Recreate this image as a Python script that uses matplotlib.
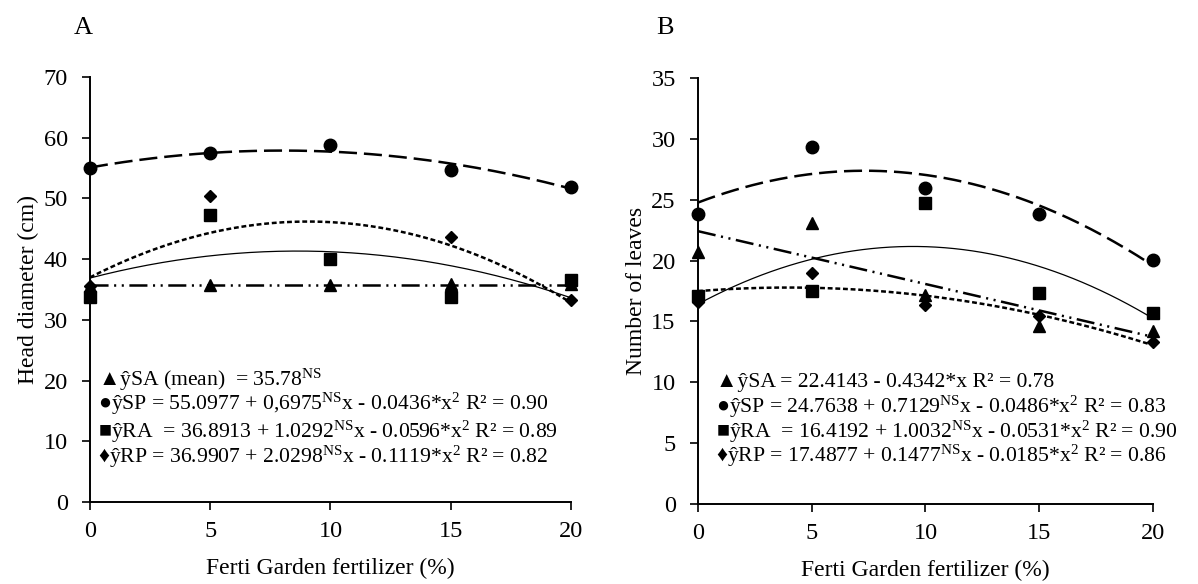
import numpy as np
import matplotlib
matplotlib.use("Agg")
import matplotlib.pyplot as plt

plt.rcParams['font.family'] = ['Liberation Serif', 'DejaVu Serif']
plt.rcParams['mathtext.fontset'] = 'custom'
plt.rcParams['mathtext.rm'] = 'Liberation Serif'
plt.rcParams['mathtext.it'] = 'Liberation Serif:italic'
plt.rcParams['lines.scale_dashes'] = False

# ---------------- data ----------------
doses = [0, 5, 10, 15, 20]

# Panel A: head diameter (cm)
head_SA = [35.5, 35.8, 35.8, 35.9, 35.9]
head_SP = [55.0, 57.5, 58.8, 54.7, 51.9]
head_RA = [33.8, 47.3, 40.0, 33.8, 36.5]
head_RP = [35.6, 50.4, 40.0, 43.6, 33.2]
# regression coefficients (c0, c1, c2) printed on the chart
head_fit_SA = [35.78, 0.0, 0.0]
head_fit_SP = [55.0977, 0.6975, -0.0436]
head_fit_RA = [36.8913, 1.0292, -0.0596]
head_fit_RP = [36.9907, 2.0298, -0.1119]

# Panel B: number of leaves
leaves_SA = [20.7, 23.1, 17.2, 14.6, 14.2]
leaves_SP = [23.8, 29.3, 26.0, 23.8, 20.05]
leaves_RA = [17.1, 17.5, 24.7, 17.3, 15.7]
leaves_RP = [16.6, 19.0, 16.35, 15.45, 13.3]
leaves_fit_SA = [22.4143, -0.4342, 0.0]
leaves_fit_SP = [24.7638, 0.7129, -0.0486]
leaves_fit_RA = [16.4192, 1.0032, -0.0531]
leaves_fit_RP = [17.4877, 0.1477, -0.0185]

eq_A = [r"▲ŷSA (mean)  = 35.78$^{\mathrm{NS}}$",
        r"●ŷSP = 55.0977 + 0,6975$^{\mathrm{NS}}$x - 0.0436*x$^{2}$ R² = 0.90",
        r"■ŷRA  = 36.8913 + 1.0292$^{\mathrm{NS}}$x - 0.0596*x$^{2}$ R² = 0.89",
        r"♦ŷRP = 36.9907 + 2.0298$^{\mathrm{NS}}$x - 0.1119*x$^{2}$ R² = 0.82"]
eq_B = [r"▲ŷSA = 22.4143 - 0.4342*x R² = 0.78",
        r"●ŷSP = 24.7638 + 0.7129$^{\mathrm{NS}}$x - 0.0486*x$^{2}$ R² = 0.83",
        r"■ŷRA  = 16.4192 + 1.0032$^{\mathrm{NS}}$x - 0.0531*x$^{2}$ R² = 0.90",
        r"♦ŷRP = 17.4877 + 0.1477$^{\mathrm{NS}}$x - 0.0185*x$^{2}$ R² = 0.86"]

# ---------------- styles ----------------
sty = {
    'SA': dict(marker='^', ms=9, dashes=(13, 4, 1.5, 4, 1.5, 4), lw=1.8),
    'SP': dict(marker='o', ms=9, dashes=(13, 5), lw=1.8),
    'RA': dict(marker='s', ms=9, dashes=None, lw=0.9),
    'RP': dict(marker='D', ms=6.5, dashes=(3.5, 2), lw=1.8),
}

fig = plt.figure(figsize=(11.98, 5.84), dpi=100)
axA = fig.add_axes([0.0751, 0.1404, 0.4015, 0.7277])
axB = fig.add_axes([0.5826, 0.1370, 0.3798, 0.7295])

xs = np.linspace(0, 20, 200)

def draw(ax, pts, fits, ylim, yticks, ylabel, eqs, eq_y, eq_x):
    for key in ['SA', 'SP', 'RA', 'RP']:
        s = sty[key]
        c = fits[key]
        yfit = c[0] + c[1] * xs + c[2] * xs ** 2
        ln, = ax.plot(xs, yfit, color='black', lw=s['lw'], zorder=2)
        if s['dashes'] is not None:
            ln.set_dashes(s['dashes'])
    for key in ['RP', 'SA', 'SP', 'RA']:
        s = sty[key]
        ax.plot(doses, pts[key], linestyle='none', marker=s['marker'],
                ms=s['ms'], color='black', zorder=3, clip_on=False)
    ax.set_xlim(0, 20)
    ax.set_ylim(*ylim)
    ax.set_xticks(doses)
    ax.set_yticks(yticks)
    for sp in ['top', 'right']:
        ax.spines[sp].set_visible(False)
    for sp in ['left', 'bottom']:
        ax.spines[sp].set_linewidth(1.4)
    ax.tick_params(axis='both', direction='out', length=6, width=1.2,
                   labelsize=17.5)
    ax.tick_params(axis='y', pad=10)
    ax.tick_params(axis='x', pad=8)
    ax.set_ylabel(ylabel, fontsize=17, labelpad=3)
    ax.set_xlabel("Ferti Garden fertilizer (%)", fontsize=17, labelpad=11)
    for t, yv in zip(eqs, eq_y):
        ax.text(eq_x, yv, t, fontsize=15.6, va='center', ha='left')

draw(axA,
     {'SA': head_SA, 'SP': head_SP, 'RA': head_RA, 'RP': head_RP},
     {'SA': head_fit_SA, 'SP': head_fit_SP, 'RA': head_fit_RA, 'RP': head_fit_RP},
     (0, 70), range(0, 71, 10), "Head diameter (cm)", eq_A,
     [20.1, 16.1, 11.6, 7.4], 0.35)
draw(axB,
     {'SA': leaves_SA, 'SP': leaves_SP, 'RA': leaves_RA, 'RP': leaves_RP},
     {'SA': leaves_fit_SA, 'SP': leaves_fit_SP, 'RA': leaves_fit_RA, 'RP': leaves_fit_RP},
     (0, 35), range(0, 36, 5), "Number of leaves", eq_B,
     [10.0, 8.0, 5.9, 3.95], 0.8)

fig.text(83 / 1198, 1 - 28 / 584, "A", fontsize=19, ha='center', va='center')
fig.text(665 / 1198, 1 - 28 / 584, "B", fontsize=19, ha='center', va='center')

fig.savefig("out.png", dpi=100)
